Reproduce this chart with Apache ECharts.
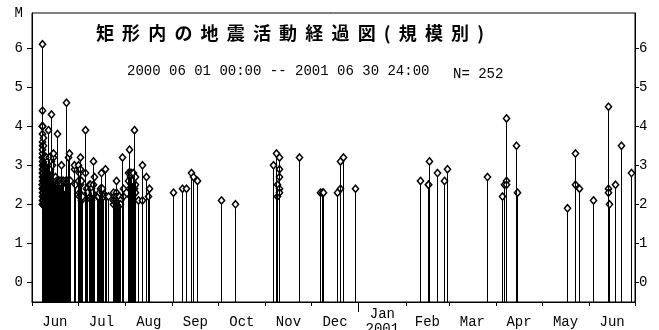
<!DOCTYPE html>
<html>
<head>
<meta charset="utf-8">
<script src="https://cdn.jsdelivr.net/npm/echarts@6/dist/echarts.min.js"></script>
<style>
html, body { margin: 0; padding: 0; background: #fff; }
#chart { width: 659px; height: 330px; }
</style>
</head>
<body>
<div id="chart"></div>
<script>
// Events per month: [day of month (fractional), magnitude]
const jun2000 = [
  [7.26,6.1],[7.28,4.4],[7.30,4.0],[7.31,3.6],[7.32,2.4],[7.33,4.0],[7.35,3.2],[7.37,2.8],[7.40,3.5],[7.42,2.5],
  [7.44,2.0],[7.45,3.8],[7.47,2.2],[7.50,3.0],[7.52,2.7],[7.53,3.2],[7.55,2.4],[7.58,3.3],[7.60,2.1],[7.63,2.9],
  [7.66,2.6],[7.68,2.5],[7.70,4.0],[7.72,2.3],[7.75,3.1],[7.78,2.0],[7.80,2.8],[7.83,3.4],[7.86,2.5],[7.88,2.1],
  [7.90,2.2],[7.93,3.0],[7.96,2.7],
  [8.02,3.2],[8.06,2.4],[8.10,3.7],[8.12,2.6],[8.14,2.1],[8.18,2.9],[8.22,2.6],[8.27,3.5],[8.32,2.3],[8.37,3.0],
  [8.42,2.0],[8.45,2.3],[8.48,2.8],[8.54,3.2],[8.60,2.5],[8.66,2.2],[8.70,2.0],[8.73,3.1],[8.80,2.7],[8.88,2.4],
  [8.95,3.0],
  [9.05,2.6],[9.14,3.2],[9.18,2.5],[9.22,2.1],[9.31,2.9],[9.40,2.4],[9.50,3.1],[9.60,2.3],[9.66,2.0],[9.71,2.7],
  [9.82,3.2],[9.93,2.2],
  [10.08,2.8],[10.20,3.0],[10.33,2.3],[10.40,2.6],[10.47,3.2],[10.60,2.5],[10.75,2.1],[10.90,2.9],
  [11.05,3.1],[11.22,2.4],[11.40,2.7],[11.58,2.2],[11.70,3.9],[11.85,3.2],
  [12.10,2.6],[12.35,3.2],[12.60,2.3],[12.85,2.9],
  [13.05,2.2],[13.20,4.3],[13.45,3.1],[13.75,2.5],
  [14.10,3.0],[14.40,2.4],[14.70,3.2],[14.95,2.1],
  [15.05,3.3],[15.35,2.6],[15.70,2.3],
  [16.15,2.7],[16.50,2.2],[16.85,2.6],
  [17.30,2.4],[17.60,3.8],[17.90,2.5],
  [18.20,2.6],[18.55,2.1],[18.85,2.6],
  [19.25,2.3],[19.60,2.6],[19.80,3.0],
  [20.20,2.5],[20.55,2.2],[20.90,2.6],
  [21.30,2.6],[21.70,2.4],
  [22.40,2.6],[22.80,2.2],
  [23.10,4.6],[23.60,2.6],
  [24.50,2.6],[24.80,3.2],[25.40,3.3],[26.20,2.6],[28.20,2.9],[28.70,3.0],[29.10,2.5]
];
const jul2000 = [
  [1.0,3.0],[1.3,2.6],[1.6,2.8],[1.9,2.2],[2.0,2.3],[2.2,2.5],[2.4,3.2],[2.7,2.9],[3.0,2.1],[3.3,2.6],[3.5,2.2],
  [5.7,3.9],[5.8,2.8],[6.2,2.4],[6.9,2.3],
  [8.6,2.5],[8.9,2.5],[9.3,2.2],[9.6,2.1],[9.8,2.4],[10.4,2.3],[11.0,2.5],[11.2,3.1],[11.7,2.7],
  [13.5,2.2],[14.4,2.2],[15.0,2.3],[15.5,2.4],
  [16.3,2.8],[16.6,2.3],[16.8,2.4],[17.6,2.2],[18.5,2.9],[19.5,2.2],
  [21.0,2.2],
  [23.8,2.3],[24.0,2.0],[24.3,2.1],[24.8,2.2],[25.4,2.1],[25.8,2.6],[26.0,2.3],[26.3,2.2],[26.8,2.1],[27.2,2.2],
  [27.5,2.1],[28.0,2.2],[28.5,2.1],[28.8,2.0],
  [29.7,3.2],[30.4,2.4],[30.8,2.2]
];
const aug2000 = [
  [2.7,2.8],[3.0,2.6],[3.3,2.4],[3.6,3.4],[3.9,2.8],[4.2,2.2],[4.5,2.7],[4.8,2.5],[5.1,2.8],[5.4,2.3],
  [5.7,2.6],[6.0,2.1],[6.3,2.8],[6.6,2.4],[7.0,3.9],[7.2,2.7],[7.5,2.5],[7.7,2.3],
  [9.6,2.1],[11.9,3.0],[12.0,2.1],[14.5,2.7],[15.8,2.2],[16.6,2.4]
];
const sep2000 = [[1.5,2.3],[7.2,2.4],[10.0,2.4],[12.9,2.8],[14.6,2.7],[16.8,2.6]];
const oct2000 = [[2.6,2.1],[12.1,2.0]];
const nov2000 = [[6.0,3.0],[8.0,3.3],[8.3,2.5],[8.5,2.2],[9.6,2.9],[9.8,3.2],[9.9,2.7],[10.0,2.4],[10.1,2.3],[23.1,3.2]];
const dec2000 = [[6.6,2.3],[7.9,2.3],[8.8,2.3],[17.6,2.3],[19.9,3.1],[20.0,2.4],[21.5,3.2],[29.6,2.4]];
const feb2001 = [[10.1,2.6],[15.1,2.5],[15.2,2.5],[15.8,3.1],[21.4,2.8],[25.6,2.6],[28.0,2.9]];
const mar2001 = [[25.8,2.7]];
const apr2001 = [[5.0,2.2],[6.3,2.5],[7.2,4.2],[7.25,2.6],[7.3,2.5],[13.8,3.5],[14.4,2.3]];
const may2001 = [[17.2,1.9],[22.8,3.3],[22.85,2.5],[25.0,2.4]];
const jun2001 = [[3.4,2.1],[13.0,4.5],[13.05,2.4],[13.1,2.3],[14.0,2.0],[18.0,2.5],[21.7,3.5],[28.1,2.8]];

// [year, month index, events]
const months = [
  [2000, 5, jun2000], [2000, 6, jul2000], [2000, 7, aug2000], [2000, 8, sep2000],
  [2000, 9, oct2000], [2000, 10, nov2000], [2000, 11, dec2000], [2001, 1, feb2001],
  [2001, 2, mar2001], [2001, 3, apr2001], [2001, 4, may2001], [2001, 5, jun2001]
];

const monthLabels = ['Jun', 'Jul', 'Aug', 'Sep', 'Oct', 'Nov', 'Dec', 'Jan\n2001', 'Feb', 'Mar', 'Apr', 'May', 'Jun'];
const magTicks = [0, 1, 2, 3, 4, 5, 6];
const magMin = -0.5;
const magMax = 6.9;
const titleText = '矩  形  内  の  地  震  活  動  経  過  図  (  規  模  別  )';
const periodText = '2000 06 01 00:00 -- 2001 06 30 24:00';

const DAY = 86400000;
const events = [];
months.forEach(([y, m, list]) => {
  const start = new Date(y, m, 1).getTime();
  list.forEach(([d, mag]) => events.push([start + (d - 1) * DAY, mag]));
});

// Month boundaries Jun 2000 .. Jul 2001 and label positions halfway between them
const monthStarts = [];
for (let i = 0; i <= 13; i++) monthStarts.push(new Date(2000, 5 + i, 1).getTime());
const monthMids = [];
for (let i = 0; i < 13; i++) monthMids.push((monthStarts[i] + monthStarts[i + 1]) / 2);
const yearStart = new Date(2001, 0, 1).getTime();

const monoFont = '"Liberation Mono", "DejaVu Sans Mono", monospace';
const HALF_W = 3.1;   // diamond half width (px)
const HALF_H = 3.6;   // diamond half height (px)

const chart = echarts.init(document.getElementById('chart'), null, { renderer: 'canvas' });

chart.setOption({
  animation: false,
  backgroundColor: '#fff',
  grid: {
    left: 32, right: 24, top: 13, bottom: 28,
    outerBoundsMode: 'none', containLabel: false,
    show: true, borderColor: '#000', borderWidth: 1, backgroundColor: 'transparent'
  },
  xAxis: [
    {
      type: 'value',
      min: monthStarts[0],
      max: monthStarts[13],
      axisLine: { show: true, onZero: false, lineStyle: { color: '#000', width: 1 } },
      axisTick: { show: true, length: 4, customValues: monthStarts, lineStyle: { color: '#000' } },
      axisLabel: {
        show: true,
        customValues: monthMids,
        margin: 20,
        verticalAlign: 'middle',
        lineHeight: 15,
        color: '#000',
        fontFamily: monoFont,
        fontSize: 14,
        formatter: (v) => {
          const i = monthMids.findIndex((t) => Math.abs(t - v) < 1000);
          return i >= 0 ? monthLabels[i] : '';
        }
      },
      splitLine: { show: false }
    },
    {
      type: 'value',
      position: 'bottom',
      min: monthStarts[0],
      max: monthStarts[13],
      axisLine: { show: false, onZero: false },
      axisTick: { show: true, length: 10, customValues: [yearStart], lineStyle: { color: '#000' } },
      axisLabel: { show: false },
      splitLine: { show: false }
    }
  ],
  yAxis: [
    {
      type: 'value',
      position: 'left',
      min: magMin,
      max: magMax,
      axisLine: { show: true, onZero: false, lineStyle: { color: '#000' } },
      axisTick: { show: true, length: 5, customValues: magTicks, lineStyle: { color: '#000' } },
      axisLabel: {
        customValues: magTicks.concat([magMax]),
        margin: 9,
        color: '#000',
        fontFamily: monoFont,
        fontSize: 14,
        formatter: (v) => (v > 6.5 ? 'M' : String(v))
      },
      splitLine: { show: false }
    },
    {
      type: 'value',
      position: 'right',
      min: magMin,
      max: magMax,
      axisLine: { show: true, onZero: false, lineStyle: { color: '#000' } },
      axisTick: { show: true, length: 4, customValues: magTicks, lineStyle: { color: '#000' } },
      axisLabel: {
        customValues: magTicks,
        margin: 4,
        color: '#000',
        fontFamily: monoFont,
        fontSize: 14
      },
      splitLine: { show: false }
    }
  ],
  series: [
    {
      // open diamond at each event's magnitude
      type: 'custom',
      z: 2,
      xAxisIndex: 0,
      yAxisIndex: 0,
      data: events,
      renderItem: (params, api) => {
        const tip = api.coord([api.value(0), api.value(1)]);
        const x = Math.round(tip[0]) + 0.5;
        const y = tip[1];
        return {
          type: 'polygon',
          shape: { points: [[x, y - HALF_H], [x + HALF_W, y], [x, y + HALF_H], [x - HALF_W, y]] },
          style: { fill: '#fff', stroke: '#000', lineWidth: 1.5 }
        };
      }
    },
    {
      // vertical stem from the bottom of the frame up to the diamond
      type: 'custom',
      z: 3,
      xAxisIndex: 0,
      yAxisIndex: 0,
      data: events,
      renderItem: (params, api) => {
        const tip = api.coord([api.value(0), api.value(1)]);
        const base = api.coord([api.value(0), magMin]);
        const x = Math.round(tip[0]) + 0.5;
        return {
          type: 'line',
          shape: { x1: x, y1: base[1], x2: x, y2: tip[1] + HALF_H },
          style: { stroke: '#000', lineWidth: 1 }
        };
      }
    }
  ],
  graphic: [
    {
      type: 'text', x: 290, y: 33,
      style: { text: titleText, font: 'bold 18px "Noto Sans CJK JP"', fill: '#000', textAlign: 'center', textVerticalAlign: 'middle' }
    },
    {
      type: 'text', x: 127, y: 71,
      style: { text: periodText, font: '14px ' + monoFont, fill: '#000', textAlign: 'left', textVerticalAlign: 'middle' }
    },
    {
      type: 'text', x: 453, y: 74,
      style: { text: 'N= ' + events.length, font: '14px ' + monoFont, fill: '#000', textAlign: 'left', textVerticalAlign: 'middle' }
    }
  ]
});
</script>
</body>
</html>
